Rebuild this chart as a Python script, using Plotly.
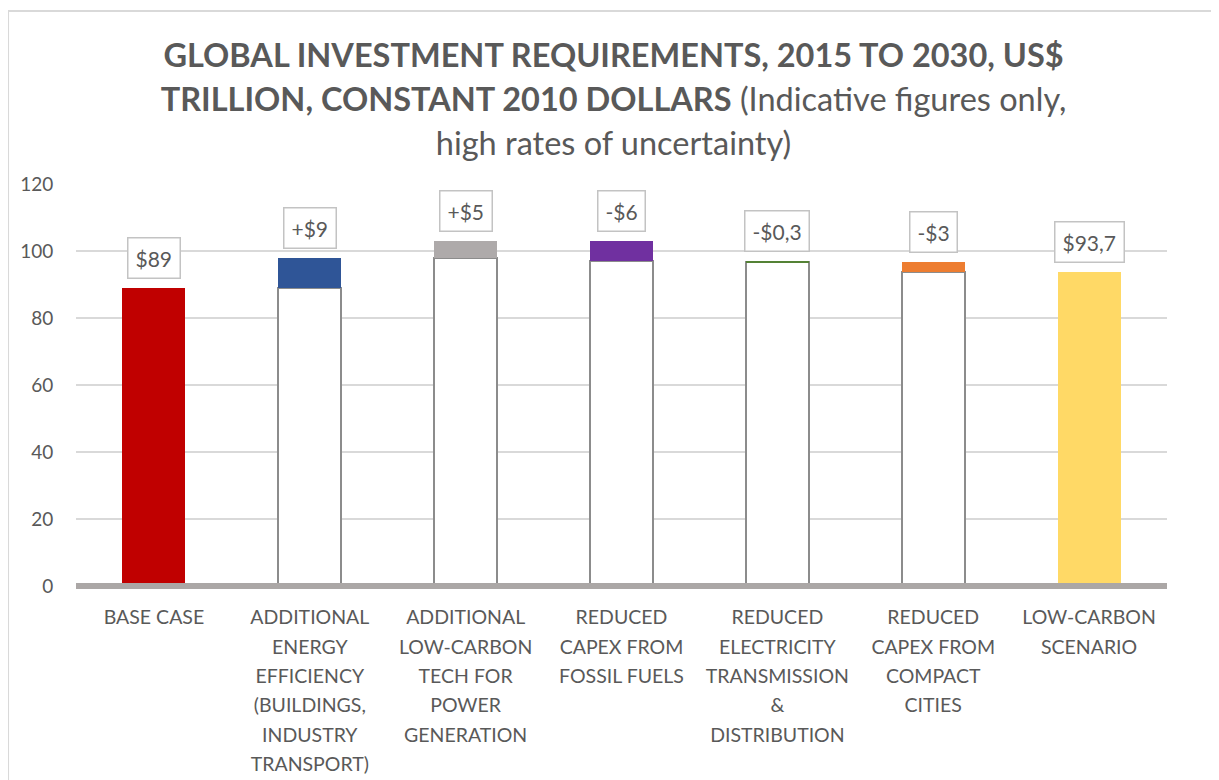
import plotly.graph_objects as go

categories = [
    "BASE CASE",
    "ADDITIONAL<br>ENERGY<br>EFFICIENCY<br>(BUILDINGS,<br>INDUSTRY<br>TRANSPORT)",
    "ADDITIONAL<br>LOW-CARBON<br>TECH FOR<br>POWER<br>GENERATION",
    "REDUCED<br>CAPEX FROM<br>FOSSIL FUELS",
    "REDUCED<br>ELECTRICITY<br>TRANSMISSION<br>&amp;<br>DISTRIBUTION",
    "REDUCED<br>CAPEX FROM<br>COMPACT<br>CITIES",
    "LOW-CARBON<br>SCENARIO",
]
base_case = 89.0
changes = [9.0, 5.0, -6.0, -0.3, -3.0]
low_carbon = 93.7
value_labels = ["$89", "+$9", "+$5", "-$6", "-$0,3", "-$3", "$93,7"]

total_colors = ["#C00000", "#FFD966"]
change_colors = ["#2F5597", "#AEAAAA", "#7030A0", "#548235", "#ED7D31"]

TEXT = "#595959"
FONT = "Lato"

# waterfall segments
n = len(categories)
x_idx = list(range(n))
tot_y = [None] * n
tot_y[0] = base_case
tot_y[-1] = low_carbon
tot_c = ["rgba(0,0,0,0)"] * n
tot_c[0] = total_colors[0]
tot_c[-1] = total_colors[1]

inv_y = [None] * n
chg_y = [None] * n
chg_c = ["rgba(0,0,0,0)"] * n
tops = [None] * n
tops[0] = base_case
tops[-1] = low_carbon
running = base_case
for i, d in enumerate(changes):
    new = running + d
    k = i + 1
    inv_y[k] = min(running, new)
    chg_y[k] = abs(d)
    chg_c[k] = change_colors[i]
    tops[k] = max(running, new)
    running = new

def wrap(label, size):
    return "<br>".join('<span style="font-size:%spx">%s</span>' % (size, p) for p in label.split("<br>"))

tick_text = [wrap(c, 19.5) for c in categories]

fig = go.Figure()
fig.add_trace(go.Bar(x=x_idx, y=tot_y, marker=dict(color=tot_c, line=dict(width=0)), hoverinfo="skip"))
fig.add_trace(go.Bar(x=x_idx, y=inv_y, marker=dict(color="white", line=dict(color="#8C8C8C", width=1.8)), hoverinfo="skip"))
fig.add_trace(go.Bar(x=x_idx, y=chg_y, marker=dict(color=chg_c, line=dict(width=0)), hoverinfo="skip"))

for i in range(n):
    fig.add_annotation(
        x=i, y=tops[i], xref="x", yref="y", text=value_labels[i],
        showarrow=False, yanchor="bottom", yshift=9,
        font=dict(family=FONT, size=21, color=TEXT),
        bgcolor="white", bordercolor="#C3C3C3", borderwidth=1.5, borderpad=7,
    )

# baseline (paper-referenced so it is not clipped by the plot area)
fig.add_shape(type="line", xref="paper", yref="paper", x0=0, x1=1, y0=0, y1=0,
              line=dict(color="#ABA7A6", width=6), layer="above")
# outer chart border
fig.add_shape(type="rect", xref="paper", yref="paper", x0=-0.0623, x1=1.06, y0=-0.52, y1=1.4303,
              line=dict(color="#D9D9D9", width=2), layer="below")

title_text = ('<span style="font-size:32.5px"><b>GLOBAL INVESTMENT REQUIREMENTS, 2015 TO 2030, US$</b></span><br>'
              '<span style="font-size:32.5px"><b>TRILLION, CONSTANT 2010 DOLLARS</b> (Indicative figures only,</span><br>'
              '<span style="font-size:32.5px">high rates of uncertainty)</span>')

fig.update_layout(
    width=1211, height=772,
    margin=dict(l=68, r=52, t=176, b=194),
    paper_bgcolor="white", plot_bgcolor="white",
    barmode="stack", bargap=0.596,
    showlegend=False,
    font=dict(family=FONT, color=TEXT),
    title=dict(text=title_text, x=0.5, xanchor="center", y=0.9236, yanchor="top",
               font=dict(family=FONT, size=34, color=TEXT)),
    xaxis=dict(tickmode="array", tickvals=x_idx, ticktext=tick_text, range=[-0.5, n - 0.5],
               showgrid=False, zeroline=False, showline=False, automargin=False,
               ticks="outside", ticklen=10, tickcolor="rgba(0,0,0,0)",
               tickfont=dict(family=FONT, size=22.6, color=TEXT)),
    yaxis=dict(range=[0, 120], dtick=20, showgrid=True, gridcolor="#D9D9D9", gridwidth=1.5,
               zeroline=False, showline=False, automargin=False,
               ticks="outside", ticklen=18, tickcolor="rgba(0,0,0,0)",
               tickfont=dict(family=FONT, size=19, color=TEXT)),
)

fig.write_html("out.html")
